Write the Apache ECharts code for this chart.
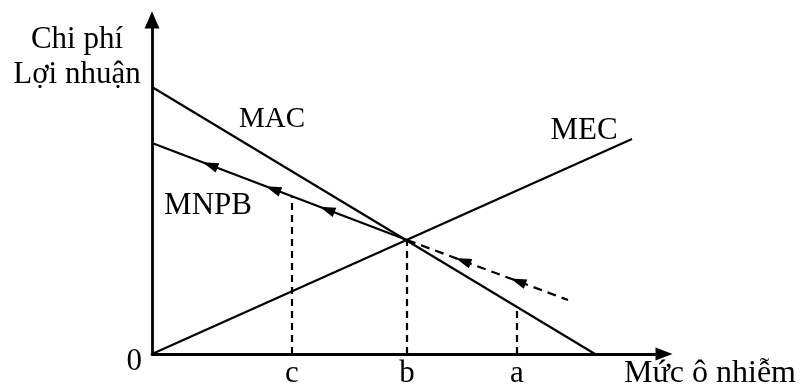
<!DOCTYPE html>
<html>
<head>
<meta charset="utf-8">
<script src="https://cdn.jsdelivr.net/npm/echarts@6/dist/echarts.min.js"></script>
<style>
  html, body { margin: 0; padding: 0; background: #fff; }
  #main { width: 800px; height: 388px; }
</style>
</head>
<body>
<div id="main"></div>
<script>
// truc (don vi doc tu hinh)
const xMax = 51.2
const yMax = 33.4

// duong MAC, MEC, MNPB
const macX = [0, 44.3]
const macY = [26.7, 0]
const mecX = [0, 48.0]
const mecY = [0, 21.5]
const mnpbX = [0, 25.5]
const mnpbY = [21.1, 11.4]
const mnpbDashX = [25.5, 41.6]
const mnpbDashY = [11.4, 5.4]

// muc o nhiem c, b, a
const tickNames = ['c', 'b', 'a']
const tickX = [14.0, 25.5, 36.5]
const tickTop = [15.8, 11.4, 4.7]

// mui ten tren MNPB
const arrowX = [5.8, 12.1, 17.5, 31.1, 36.6]
const arrowY = [18.9, 16.5, 14.45, 9.31, 7.26]
const arrowAngle = [69, 69, 69, 69.6, 69.6]

const zip = (xs, ys) => xs.map((x, i) => [x, ys[i]])
const font = 'Liberation Serif, Times New Roman, serif'

const chart = echarts.init(document.getElementById('main'))

const solid = (name, data) => ({
  name: name,
  type: 'line',
  data: data,
  showSymbol: false,
  silent: true,
  lineStyle: { color: '#000', width: 2.2 }
})

const series = [
  solid('MAC', zip(macX, macY)),
  solid('MEC', zip(mecX, mecY)),
  solid('MNPB', zip(mnpbX, mnpbY)),
  {
    type: 'line',
    data: zip(mnpbDashX, mnpbDashY),
    showSymbol: false,
    silent: true,
    lineStyle: { color: '#000', width: 2.2, type: [9, 6] }
  }
]

// duong gach doc
tickX.forEach((x, i) => {
  series.push({
    type: 'line',
    data: [[x, 0], [x, tickTop[i]]],
    showSymbol: false,
    silent: true,
    lineStyle: { color: '#000', width: 2.2, type: [7, 5] }
  })
})

series.push({
  type: 'scatter',
  data: arrowX.map((x, i) => ({ value: [x, arrowY[i]], symbolRotate: arrowAngle[i] })),
  symbol: 'triangle',
  symbolSize: [10, 16],
  itemStyle: { color: '#000', opacity: 1 },
  silent: true
})

// nhan c, b, a va 0
const labelStyle = {
  show: true,
  color: '#000',
  fontFamily: font,
  fontSize: 31,
  formatter: p => p.name
}
series.push({
  type: 'scatter',
  data: tickX.map((x, i) => ({ value: [x, 0], name: tickNames[i] })).concat([{
    value: [0, 0],
    name: '0',
    label: Object.assign({}, labelStyle, { position: 'left', distance: 10, offset: [0, 8] })
  }]),
  symbolSize: 0,
  itemStyle: { opacity: 1 },
  silent: true,
  label: Object.assign({}, labelStyle, { position: 'bottom', distance: 4 })
})

const txt = (text, x, y, align, size) => ({
  type: 'text',
  x: x,
  y: y,
  style: {
    text: text,
    fill: '#000',
    font: (size || 31) + 'px ' + font,
    align: align || 'center',
    verticalAlign: 'middle',
    lineHeight: 35
  }
})

chart.setOption({
  animation: false,
  backgroundColor: '#fff',
  grid: { left: 152, right: 136, top: 20, bottom: 34 },
  xAxis: {
    type: 'value',
    min: 0,
    max: xMax,
    splitLine: { show: false },
    axisTick: { show: false },
    axisLabel: { show: false },
    axisLine: {
      lineStyle: { color: '#000', width: 2.8 },
      symbol: ['none', 'triangle'],
      symbolSize: [13, 17]
    }
  },
  yAxis: {
    type: 'value',
    min: 0,
    max: yMax,
    splitLine: { show: false },
    axisTick: { show: false },
    axisLabel: { show: false },
    axisLine: {
      lineStyle: { color: '#000', width: 2.8 },
      symbol: ['none', 'triangle'],
      symbolSize: [15, 17]
    }
  },
  graphic: [
    txt('Chi phí\nLợi nhuận', 77, 57),
    txt('MAC', 272, 119, 'center', 29),
    txt('MNPB', 208, 206),
    txt('MEC', 584, 131),
    txt('Mức ô nhiễm', 624, 374, 'left', 32)
  ],
  series: series
})
</script>
</body>
</html>
